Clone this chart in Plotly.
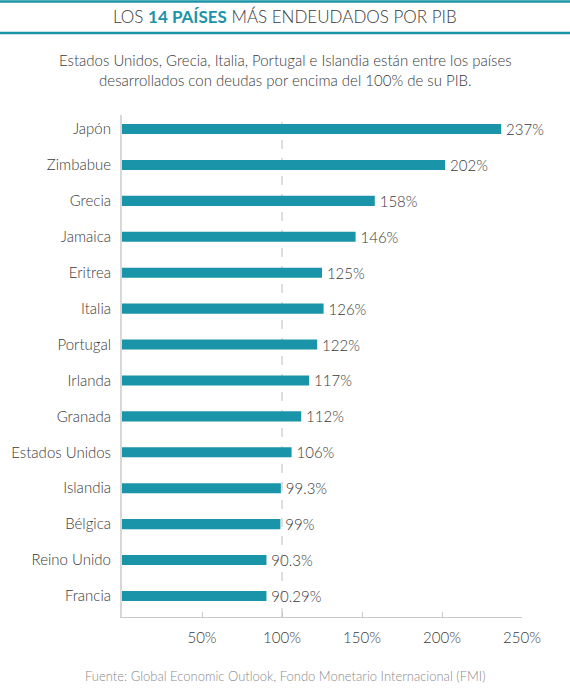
import plotly.graph_objects as go

countries = ["Japón", "Zimbabue", "Grecia", "Jamaica", "Eritrea", "Italia", "Portugal",
             "Irlanda", "Granada", "Estados Unidos", "Islandia", "Bélgica", "Reino Unido", "Francia"]
debt_pct = [237, 202, 158, 146, 125, 126, 122, 117, 112, 106, 99.3, 99, 90.3, 90.29]
labels = ["237%", "202%", "158%", "146%", "125%", "126%", "122%", "117%", "112%", "106%",
          "99.3%", "99%", "90.3%", "90.29%"]
tick_vals = [50, 100, 150, 200, 250]

TEAL = "#1a94a8"
TXT = "#3a3a3a"
FONT = "Lato"
WT = 300

W, H = 570, 691
L, R, T, B = 122, 48, 115, 74
PW, PH = W - L - R, H - T - B

def px_x(p):
    return (p - L) / PW

def px_y(p):
    return (H - B - p) / PH

fig = go.Figure(go.Bar(
    x=debt_pct, y=list(range(len(countries))), orientation="h",
    marker=dict(color=TEAL, line=dict(width=0)),
    width=0.28,
    text=labels, texttemplate="\u2009%{text}",
    textposition="outside", cliponaxis=False, constraintext="none",
    textfont=dict(family=FONT, size=15, color=TXT, weight=WT),
    hoverinfo="skip",
))

fig.update_layout(
    width=W, height=H,
    margin=dict(l=L, r=R, t=T, b=B),
    paper_bgcolor="white", plot_bgcolor="white",
    showlegend=False,
    font=dict(family=FONT, color=TXT),
    xaxis=dict(range=[0, 250], tickvals=tick_vals, ticktext=[f"{v}%" for v in tick_vals],
               showgrid=False, zeroline=False, showline=True, linecolor="#c8c8c8", linewidth=1,
               ticks="inside", ticklen=5, tickcolor="#c8c8c8",
               tickfont=dict(family=FONT, size=15, color=TXT, weight=WT), ticklabelstandoff=7),
    yaxis=dict(range=[13.585, -0.39], tickvals=list(range(len(countries))), ticktext=countries,
               showgrid=False, zeroline=False, showline=True, linecolor="#d8d8d8", linewidth=2,
               ticks="", tickfont=dict(family=FONT, size=15, color=TXT, weight=WT), ticklabelstandoff=6),
    shapes=[
        dict(type="line", xref="x", yref="paper", x0=100, x1=100, y0=0, y1=1,
             line=dict(color="#d4d4d4", width=1.5, dash="dash"), layer="below"),
        dict(type="line", xref="paper", yref="paper", x0=px_x(0), x1=px_x(W),
             y0=px_y(1.5), y1=px_y(1.5), line=dict(color=TEAL, width=2.5)),
        dict(type="line", xref="paper", yref="paper", x0=px_x(0), x1=px_x(W),
             y0=px_y(33), y1=px_y(33), line=dict(color=TEAL, width=2.5)),
    ],
    annotations=[
        dict(xref="paper", yref="paper", x=px_x(285), y=px_y(17), xanchor="center", yanchor="middle",
             showarrow=False,
             text="LOS <b><span style='color:%s'>14 PAÍSES</span></b> MÁS ENDEUDADOS POR PIB" % TEAL,
             font=dict(family=FONT, size=17, color=TXT, weight=WT)),
        dict(xref="paper", yref="paper", x=px_x(285), y=px_y(70), xanchor="center", yanchor="middle",
             showarrow=False, align="center",
             text="Estados Unidos, Grecia, Italia, Portugal e Islandia están entre los países<br>"
                  "desarrollados con deudas por encima del 100% de su PIB.",
             font=dict(family=FONT, size=15, color=TXT, weight=WT)),
        dict(xref="paper", yref="paper", x=px_x(285), y=px_y(676), xanchor="center", yanchor="middle",
             showarrow=False,
             text="Fuente: Global Economic Outlook, Fondo Monetario Internacional (FMI)",
             font=dict(family=FONT, size=13, color="#8a8a8a", weight=WT)),
    ],
)

fig.write_html("out.html", config={"displayModeBar": False},
               post_script="document.body.style.margin='0';")
